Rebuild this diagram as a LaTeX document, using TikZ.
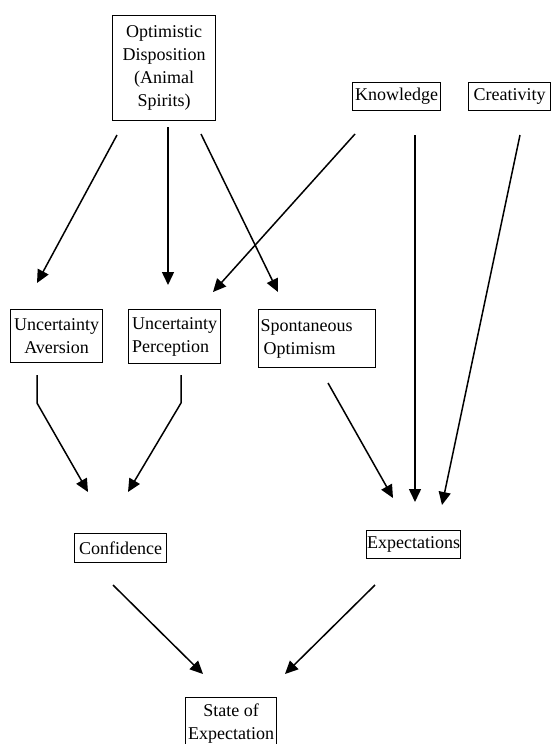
\documentclass[tikz,border=0pt]{standalone}
\usepackage{fontspec}
\setmainfont{Liberation Serif}
\usetikzlibrary{arrows.meta}
\tikzset{
  box/.style={draw, line width=1.2pt, inner sep=0pt, anchor=north west,
    font=\fontsize{18}{23}\selectfont, align=center},
  conn/.style={line width=1.5pt, line join=miter, -{Triangle[length=13pt,width=12pt]}}
}
\begin{document}
\begin{tikzpicture}[x=1pt,y=-1pt]
\useasboundingbox (0,0) rectangle (552,744);
\clip (0,0) rectangle (552,744);
% boxes
\node[box, minimum width=103pt, minimum height=105pt] (opt) at (112,15)
  {Optimistic\\Disposition\\(Animal\\Spirits)};
\node[box, minimum width=88pt, minimum height=28pt] (know) at (352,82) {Knowledge};
\node[box, minimum width=82pt, minimum height=28pt] (crea) at (468,82) {Creativity};
\node[box, minimum width=92pt, minimum height=53pt] (ua) at (10,309) {Uncertainty\\Aversion};
\node[box, minimum width=92pt, minimum height=54pt, align=left] (up) at (128,309) {Uncertainty\\Perception};
\node[box, minimum width=117pt, minimum height=58pt, align=left, text width=113pt, inner xsep=2pt] (so) at (258,309)
  {Spontaneous\\\hspace*{3pt}Optimism};
\node[box, minimum width=92pt, minimum height=29pt] (conf) at (74,533) {Confidence};
\node[box, minimum width=94pt, minimum height=28pt] (expn) at (366,530) {Expectations};
\node[box, minimum width=91pt, minimum height=51pt] (state) at (185,697) {State of\\Expectation};
% connector end points
\coordinate (a1s) at (117,135); \coordinate (a1e) at (37,283);
\coordinate (a2s) at (168,127); \coordinate (a2e) at (168,285);
\coordinate (a3s) at (201,134); \coordinate (a3e) at (278,292);
\coordinate (a4s) at (355,134); \coordinate (a4e) at (213,292);
\coordinate (b1s) at (328,383); \coordinate (b1e) at (393,498);
\coordinate (b2s) at (415,135); \coordinate (b2e) at (415,502);
\coordinate (b3s) at (520,135); \coordinate (b3e) at (442,505);
\coordinate (c1s) at (37,375);  \coordinate (c1m) at (37,403);  \coordinate (c1e) at (88,492);
\coordinate (c2s) at (181,375); \coordinate (c2m) at (181,403); \coordinate (c2e) at (128,492);
\coordinate (d1s) at (113,585); \coordinate (d1e) at (203,674);
\coordinate (d2s) at (375,585); \coordinate (d2e) at (285,674);
% connectors
\draw[conn] (a1s) -- (a1e);
\draw[conn] (a2s) -- (a2e);
\draw[conn] (a3s) -- (a3e);
\draw[conn] (a4s) -- (a4e);
\draw[conn] (b1s) -- (b1e);
\draw[conn] (b2s) -- (b2e);
\draw[conn] (b3s) -- (b3e);
\draw[conn] (c1s) -- (c1m) -- (c1e);
\draw[conn] (c2s) -- (c2m) -- (c2e);
\draw[conn] (d1s) -- (d1e);
\draw[conn] (d2s) -- (d2e);
\end{tikzpicture}
\end{document}
